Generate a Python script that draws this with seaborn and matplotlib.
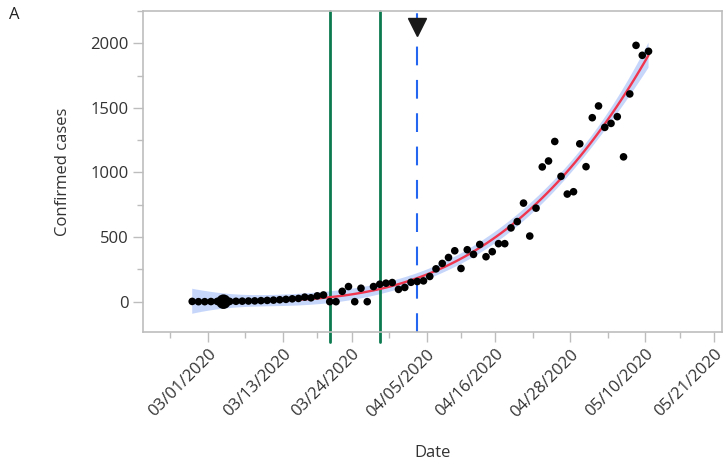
import numpy as np
import pandas as pd
import matplotlib
matplotlib.use("Agg")
import matplotlib.pyplot as plt
import matplotlib.dates as mdates
import matplotlib.transforms as mtransforms
from matplotlib.ticker import FixedLocator, MultipleLocator
import seaborn as sns

# ---------------- data ----------------
start_date = "2020-02-27"
confirmed = [
    2, 0, 0, 1, 2, 0, 2, 3, 4, 5,            # 02/27 - 03/07
    6, 8, 10, 12, 15, 18, 22, 25, 35, 30,     # 03/08 - 03/17
    45, 52, 0, 0, 80, 117, 0, 104, 0, 117,    # 03/18 - 03/27
    135, 143, 148, 95, 110, 150, 156, 161, 195, 254,   # 03/28 - 04/06
    296, 342, 394, 257, 402, 366, 443, 348, 387, 449,  # 04/07 - 04/16
    449, 571, 620, 763, 508, 724, 1043, 1089, 1240, 970,  # 04/17 - 04/26
    833, 851, 1222, 1045, 1424, 1515, 1349, 1380, 1432, 1121,  # 04/27 - 05/06
    1608, 1984, 1907, 1938,                   # 05/07 - 05/10
]
highlight_dates = ["2020-03-03"]
event_dates = ["2020-03-20", "2020-03-28"]
marker_date = "2020-04-03"
tick_dates = ["2020-03-01", "2020-03-13", "2020-03-24", "2020-04-05",
              "2020-04-16", "2020-04-28", "2020-05-10", "2020-05-21"]
tick_labels = ["03/01/2020", "03/13/2020", "03/24/2020", "04/05/2020",
               "04/16/2020", "04/28/2020", "05/10/2020", "05/21/2020"]
y_ticks = [0, 500, 1000, 1500, 2000]

# ---------------- style ----------------
sns.set_theme(style="white")
plt.rcParams["font.family"] = ["Open Sans", "DejaVu Sans"]
text_color = "#333333"
spine_color = "#bdbdbd"

dates = pd.date_range(start_date, periods=len(confirmed), freq="D")
half_day = pd.Timedelta(hours=12)
df = pd.DataFrame({"date": dates, "cases": confirmed})
df["x"] = mdates.date2num(df["date"] + half_day)

fig = plt.figure(figsize=(7.26, 4.72), dpi=100)
ax = fig.add_axes([0.1966, 0.2960, 0.7975, 0.6807])

# 95% confidence band of the cubic least-squares fit (analytic)
x = df["x"].to_numpy()
y = df["cases"].to_numpy(dtype=float)
x0 = x.mean()
X = np.vander(x - x0, 4)
beta, *_ = np.linalg.lstsq(X, y, rcond=None)
resid = y - X @ beta
s2 = resid @ resid / (len(y) - 4)
cov = s2 * np.linalg.inv(X.T @ X)
grid = np.linspace(x.min(), x.max(), 200)
G = np.vander(grid - x0, 4)
fit = G @ beta
se = np.sqrt(np.einsum("ij,jk,ik->i", G, cov, G))
ax.fill_between(grid, fit - 1.993 * se, fit + 1.993 * se,
                color="#c6d6fb", edgecolor="none", zorder=1)

# fitted line
sns.regplot(data=df, x="x", y="cases", order=3, scatter=False, ci=None,
            color="#f0364f", line_kws={"lw": 1.7, "zorder": 3}, ax=ax)

# points
sns.scatterplot(data=df, x="x", y="cases", color="black", s=30,
                edgecolor="none", ax=ax, zorder=4, legend=False)
hl = df[df["date"].isin(pd.to_datetime(highlight_dates))]
ax.scatter(hl["x"], hl["cases"], color="black", s=110, edgecolor="none", zorder=5)

# event lines
for d in event_dates:
    ax.axvline(mdates.date2num(pd.Timestamp(d) + half_day), ymin=-0.03, ymax=1,
               color="#0b7a4f", lw=2.0, clip_on=False, zorder=2)
mx = mdates.date2num(pd.Timestamp(marker_date) + half_day)
ax.axvline(mx, color="#2566f0", lw=1.5, dashes=(9, 7), zorder=2)
trans = mtransforms.blended_transform_factory(ax.transData, ax.transAxes)
ax.plot([mx], [0.951], marker="v", color="#1a1a1a", markersize=12.5,
        transform=trans, clip_on=False, zorder=6)

# axes limits / ticks
ax.set_xlim(mdates.date2num(pd.Timestamp("2020-02-19 14:00")),
            mdates.date2num(pd.Timestamp("2020-05-22 05:00")))
ax.set_ylim(-237, 2250)

tnum = mdates.date2num(pd.to_datetime(tick_dates))
ax.xaxis.set_major_locator(FixedLocator(tnum))
mids = list((tnum[:-1] + tnum[1:]) / 2)
mids = [tnum[0] - (tnum[1] - tnum[0]) / 2] + mids
ax.xaxis.set_minor_locator(FixedLocator(mids))
ax.set_xticklabels(tick_labels, rotation=45, ha="right", rotation_mode="anchor",
                   fontsize=12, color=text_color)
ax.set_yticks(y_ticks)
ax.set_yticklabels([str(v) for v in y_ticks], fontsize=12, color=text_color)
ax.yaxis.set_minor_locator(MultipleLocator(250))

ax.tick_params(axis="both", which="both", bottom=True, left=True,
               top=False, right=False)
ax.tick_params(axis="both", which="major", direction="out", length=7, width=1,
               color=spine_color, pad=3)
ax.tick_params(axis="both", which="minor", direction="out", length=4, width=1,
               color=spine_color)
ax.tick_params(axis="x", which="major", pad=3)
for s in ax.spines.values():
    s.set_color(spine_color)
    s.set_linewidth(1.2)

ax.set_xlabel("Date", fontsize=12, color=text_color, labelpad=18)
ax.set_ylabel("Confirmed cases", fontsize=12, color=text_color, labelpad=14)
fig.text(0.012, 0.985, "A", fontsize=12, color="#222222", va="top", ha="left")

fig.savefig("out.png", dpi=100)
